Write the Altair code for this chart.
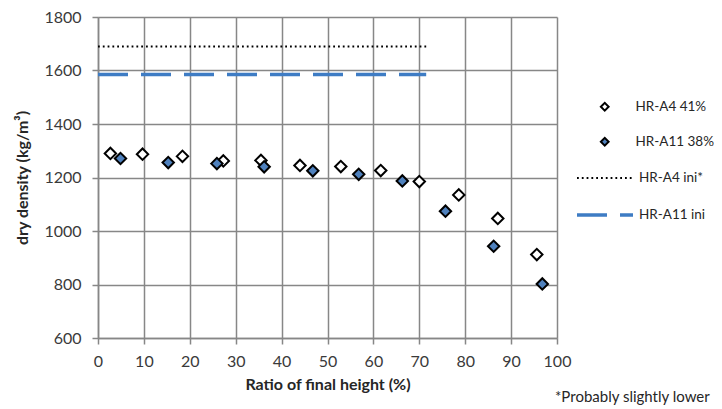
import altair as alt
import pandas as pd

# HR-A4 41% (hollow diamonds)
a4_x = [2.7, 9.7, 18.4, 27.3, 35.5, 44.0, 52.9, 61.6, 70.0, 78.6, 87.1, 95.6]
a4_y = [1290, 1287, 1279, 1262, 1264, 1245, 1241, 1226, 1185, 1135, 1047, 912]
# HR-A11 38% (filled diamonds)
a11_x = [4.9, 15.3, 25.9, 36.2, 46.8, 56.8, 66.3, 75.7, 86.2, 96.8]
a11_y = [1271, 1256, 1252, 1240, 1225, 1212, 1187, 1074, 943, 802]
# initial densities
ini_x = [0, 71.5]
a4_ini = 1690
a11_ini = 1585

pt_series = ["HR-A4 41%", "HR-A11 38%"]
ln_series = ["HR-A4 ini*", "HR-A11 ini"]
x_ticks = list(range(0, 101, 10))
y_ticks = list(range(600, 1801, 200))

pts = pd.DataFrame(
    {"x": a4_x + a11_x,
     "y": a4_y + a11_y,
     "s": [pt_series[0]] * len(a4_x) + [pt_series[1]] * len(a11_x)}
)
lns = pd.DataFrame(
    {"x": ini_x + ini_x,
     "y": [a4_ini, a4_ini, a11_ini, a11_ini],
     "s": [ln_series[0]] * 2 + [ln_series[1]] * 2}
)

FONT = "Lato"
GRID = "#878787"

xscale = alt.Scale(domain=[0, 100], nice=False)
yscale = alt.Scale(domain=[600, 1800], nice=False)

xaxis = alt.Axis(values=x_ticks, title="Ratio of final height (%)", grid=True, format="d")
yaxis = alt.Axis(values=y_ticks, title="dry density (kg/m³)", grid=True, format="d")

ln_legend = alt.Legend(title=None, orient="none", legendX=477, legendY=132,
                       symbolType="stroke", symbolSize=3136,
                       labelOffset=4, rowPadding=-20, padding=0,
                       labelFont=FONT, labelFontSize=13.5, labelColor="#262626")

lines = alt.Chart(lns).mark_line().encode(
    x=alt.X("x:Q", scale=xscale, axis=xaxis),
    y=alt.Y("y:Q", scale=yscale, axis=yaxis),
    color=alt.Color("s:N", scale=alt.Scale(domain=ln_series, range=["#000000", "#3e7cc4"]),
                    legend=ln_legend),
    strokeDash=alt.StrokeDash("s:N", scale=alt.Scale(domain=ln_series, range=[[1.8, 3], [30, 13]]),
                              legend=ln_legend),
    strokeWidth=alt.StrokeWidth("s:N", scale=alt.Scale(domain=ln_series, range=[2, 3.5]),
                                legend=ln_legend),
    detail="s:N",
)

points = alt.Chart(pts).mark_point(
    shape="diamond", filled=True, stroke="black", strokeWidth=2, size=130, opacity=1
).encode(
    x=alt.X("x:Q", scale=xscale, axis=xaxis),
    y=alt.Y("y:Q", scale=yscale, axis=yaxis),
    fill=alt.Fill("s:N", scale=alt.Scale(domain=pt_series, range=["#ffffff", "#4f81bd"]),
                  legend=alt.Legend(title=None, orient="none", legendX=500, legendY=83,
                                    symbolType="diamond", symbolSize=60,
                                    symbolStrokeColor="black", symbolStrokeWidth=2,
                                    labelOffset=24, rowPadding=18, padding=0,
                                    labelFont=FONT, labelFontSize=13.5, labelColor="#262626")),
)

note = alt.Chart(pd.DataFrame({"t": ["*Probably slightly lower"]})).mark_text(
    align="left", baseline="middle", font=FONT, fontSize=15, color="#262626"
).encode(x=alt.value(457), y=alt.value(380), text="t:N")

chart = alt.layer(lines, points, note).properties(
    width=459, height=321,
    autosize=alt.AutoSizeParams(type="none"),
    padding={"left": 90, "top": 9, "right": 157, "bottom": 71},
).configure_view(
    stroke=None
).configure_axis(
    gridColor=GRID, gridWidth=1.5, domainColor=GRID, domainWidth=1.5,
    tickColor=GRID, tickWidth=1.5, tickSize=6,
    labelFont=FONT, labelFontSize=16, labelColor="#3a3a3a",
    titleFont=FONT, titleFontSize=16, titleFontWeight="bold", titleColor="#262626",
).configure_axisX(
    labelPadding=9, titlePadding=7, labelFlush=False
).configure_axisY(
    labelPadding=11, titlePadding=13, labelFlush=False
)

chart.save("out.html", embed_options={"renderer": "svg", "actions": False})
